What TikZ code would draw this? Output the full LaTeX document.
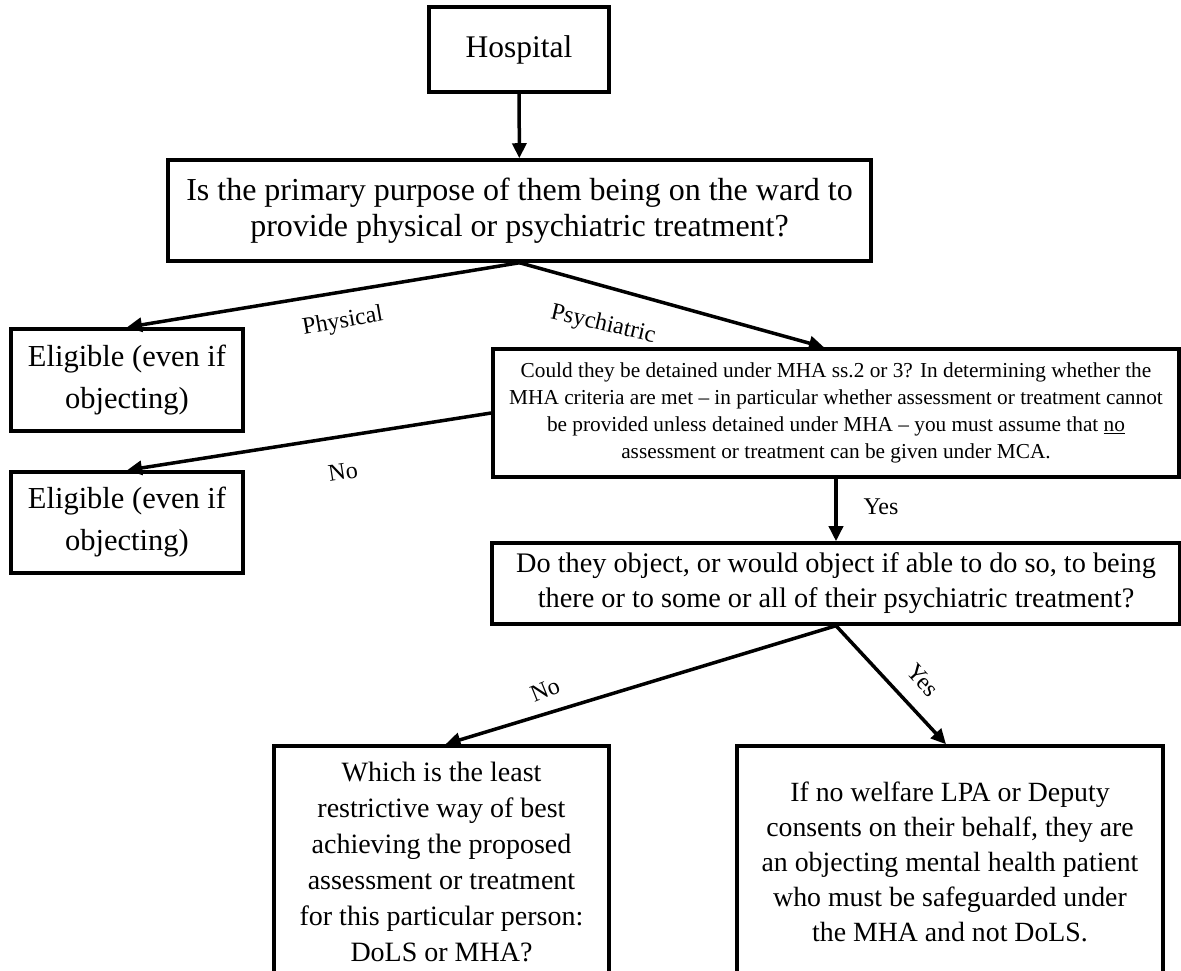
\documentclass[tikz,border=0pt]{standalone}
\usepackage{fontspec}
\setmainfont{Liberation Serif}
\usetikzlibrary{arrows.meta}

\begin{document}
\begin{tikzpicture}[x=1pt,y=1pt,
  box/.style={draw,line width=3.5pt,align=center,inner sep=0pt,font=\fontsize{30}{36}\selectfont},
  arr/.style={line width=3.5pt,-{Triangle[length=15pt,width=14pt]}},
  lbl/.style={font=\fontsize{24}{28}\selectfont}]
\useasboundingbox (0,0) rectangle (1181,971);
% boxes
\node[box,minimum width=180pt,minimum height=85pt,font=\fontsize{31.5}{36}\selectfont] (hosp) at (519,921.5) {Hospital};
\node[box,minimum width=703pt,minimum height=101pt,font=\fontsize{32}{36}\selectfont] (purpose) at (519.5,760.5)
  {Is the primary purpose of them being on the ward to\\provide physical or psychiatric treatment?};
\node[box,minimum width=232pt,minimum height=102pt,font=\fontsize{30.5}{42}\selectfont] (elig1) at (127,591) {Eligible (even if\\objecting)};
\node[box,minimum width=232pt,minimum height=101pt,font=\fontsize{30.5}{42}\selectfont] (elig2) at (127,448.5) {Eligible (even if\\objecting)};
\node[box,minimum width=686pt,minimum height=128pt,font=\fontsize{21.3}{27}\selectfont] (mha) at (836,558)
  {Could they be detained under MHA ss.2 or 3? In determining whether the\\
   MHA criteria are met -- in particular whether assessment or treatment cannot\\
   be provided unless detained under MHA -- you must assume that \underline{no}\\
   assessment or treatment can be given under MCA.};
\node[box,minimum width=688pt,minimum height=81pt,font=\fontsize{28.3}{35}\selectfont] (object) at (836,387.5)
  {Do they object, or would object if able to do so, to being\\there or to some or all of their psychiatric treatment?};
\node[box,minimum width=335pt,minimum height=232pt,font=\fontsize{28}{36}\selectfont] (least) at (441.5,109)
  {Which is the least\\restrictive way of best\\achieving the proposed\\assessment or treatment\\for this particular person:\\DoLS or MHA?};
\node[box,minimum width=426pt,minimum height=232pt,font=\fontsize{27.8}{35}\selectfont] (safeg) at (950,109)
  {If no welfare LPA or Deputy\\consents on their behalf, they are\\an objecting mental health patient\\who must be safeguarded under\\the MHA and not DoLS.};
% arrows
\draw[arr] (hosp) -- (purpose);
\draw[arr] (purpose.south) -- (elig1.north);
\draw[arr] (purpose.south) -- ([xshift=-12pt]mha.north);
\draw[arr] (mha.west) -- (elig2.north);
\draw[arr] (mha) -- (object);
\draw[arr] (object.south) -- ([xshift=4pt]least.north);
\draw[arr] (object.south) -- ([xshift=-4pt]safeg.north);
% labels
\node[lbl,rotate=10] (lphys) at (343,649) {Physical};
\node[lbl,rotate=-13] (lpsych) at (603,646) {Psychiatric};
\node[lbl,rotate=9] (lno1) at (343,499) {No};
\node[lbl] (lyes1) at (881,464) {Yes};
\node[lbl,rotate=22] (lno2) at (545,281) {No};
\node[lbl,rotate=-48] (lyes2) at (923,291) {Yes};
\end{tikzpicture}
\end{document}
